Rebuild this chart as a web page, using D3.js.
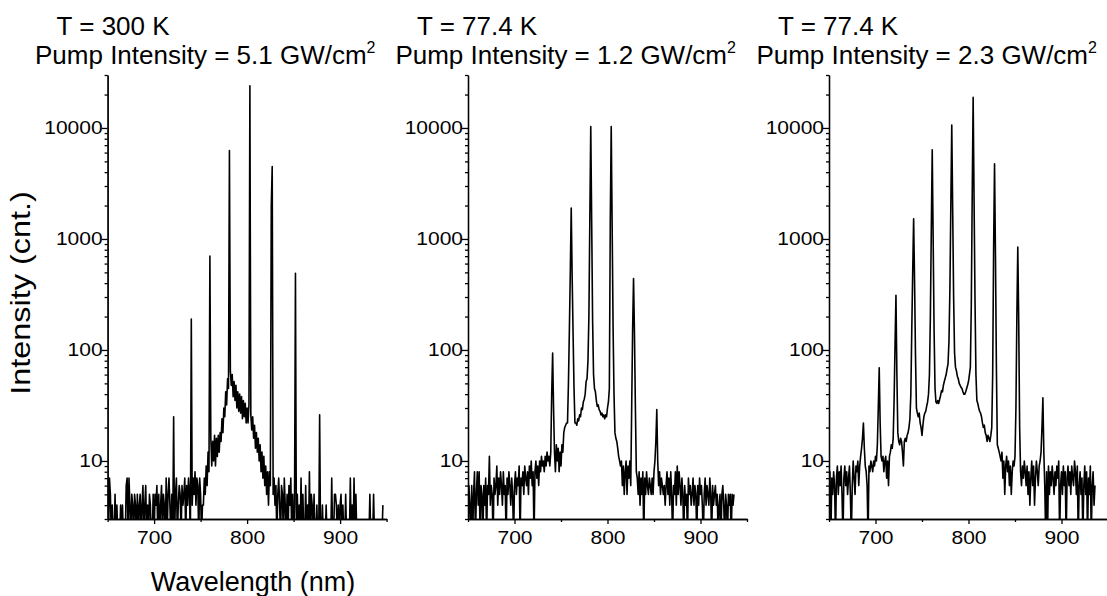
<!doctype html>
<html>
<head>
  <meta charset="utf-8">
  <title>Lasing spectra</title>
  <script src="https://cdn.jsdelivr.net/npm/d3@7"></script>
  <style>
    body { margin: 0; background: #fff; }
    svg { font-family: "Liberation Sans", Arial, sans-serif; }
  </style>
</head>
<body>
  <div id="chart"></div>

  <script type="text/javascript">
    // spectra sampled every 1 nm starting at 650 nm
    var wlStart = 650;

    // T = 300 K, 5.1 GW/cm2  (650 - 946 nm)
    var spec300 = [
      7,2,7,5,2,4,2,2,5,2,
      4,2,2,2,4,2,4,2,2,2,
      6,7,2,7,4,2,5,4,2,5,
      4,2,5,2,4,5,2,4,6,2,
      4,6,2,4,2,5,4,2,2,5,
      2,5,4,6,2,5,2,4,6,2,
      5,4,2,7,2,5,7,4,2,5,
      2,25,2,5,7,2,4,6,5,2,
      6,4,5,7,2,6,4,7,5,2,
      190,4,7,5,8,4,7,6,2,7,
      5,2,4,4,7,5,9,6,12,8,
      700,16,9,15,10,17,9,16,11,17,
      12,18,15,24,18,30,25,42,32,55,
      45,6260,65,48,60,38,52,35,48,30,
      42,28,40,27,38,24,35,25,33,22,
      30,22,32,24000,26,19,25,16,21,13,
      18,12,16,10,14,8,12,7,11,6,
      9,5,8,4,8,6,2000,4500,5,7,
      4,6,2,5,7,4,2,6,5,2,
      7,4,2,5,2,6,4,7,2,5,
      2,4,490,2,5,2,4,2,7,2,
      5,2,2,6,2,4,2,8,2,5,
      4,2,5,2,2,4,2,2,26,2,
      2,4,2,2,2,4,2,2,2,2,
      2,7,2,2,5,5,4,2,4,2,
      4,5,2,4,2,2,5,2,2,2,
      2,7,2,4,2,7,2,5,2,2,
      2,2,2,2,2,2,2,2,2,2,
      2,2,5,2,2,2,5,2,2,2,
      2,2,2,2,2,2,4
    ];

    // T = 77.4 K, 1.2 GW/cm2  (650 - 936 nm)
    var spec77low = [
      2,6,4,2,6,2,5,8,2,5,
      8,4,8,2,6,5,2,6,4,7,
      2,6,5,11,4,6,5,2,7,5,
      6,9,4,7,5,8,6,4,8,5,
      6,2,7,5,8,6,4,7,5,2,
      6,8,5,7,6,9,2,7,6,8,
      5,9,7,6,8,5,9,7,10,6,
      8,2,8,10,7,9,6,10,8,11,
      9,10,8,11,9,12,10,11,9,12,
      40,94,30,12,8,14,10,13,8,12,
      9,14,12,18,20,21,22,22,50,150,
      500,1900,450,140,45,22,22,21,24,23,
      26,25,30,29,34,36,40,52,55,80,
      200,1500,10300,1400,180,60,45,42,35,31,
      32,29,28,26,27,25,26,24,26,25,
      30,34,45,1500,10300,1300,160,40,18,16,
      15,13,11,10,9,10,6,9,5,8,
      10,5,9,7,10,6,30,150,440,140,
      30,8,7,5,8,4,7,5,8,2,
      7,5,8,6,5,7,6,5,7,5,
      8,10,15,29,10,6,8,5,7,6,
      5,6,4,6,8,5,7,4,8,5,
      2,6,5,8,4,9,5,8,6,4,
      7,5,2,6,4,5,2,7,5,6,
      4,5,7,4,6,5,2,6,4,7,
      5,6,4,2,5,7,4,6,5,4,
      7,5,2,6,4,5,6,4,5,2,
      4,5,2,5,6,4,2,5,4,2,
      5,4,5,2,5,4,5
    ];

    // T = 77.4 K, 2.3 GW/cm2  (650 - 936 nm)
    var spec77high = [
      5,8,2,7,5,8,6,2,7,9,
      5,8,6,9,5,2,7,9,6,8,
      5,7,9,5,2,6,10,7,5,9,
      8,10,6,9,11,13,16,22,13,9,
      8,6,2,9,8,10,9,8,10,9,
      11,10,14,30,69,22,11,10,11,8,
      10,11,7,10,6,11,12,14,13,16,
      35,110,311,60,18,15,14,16,15,12,
      9,15,16,15,17,18,20,24,40,150,
      500,1517,420,90,30,27,25,27,22,20,
      17,21,25,27,28,31,34,40,60,200,
      1200,6350,1000,150,45,34,33,35,33,36,
      39,43,42,48,52,56,60,68,75,120,
      350,2000,10640,1800,300,95,70,65,58,55,
      50,48,46,45,42,40,40,42,45,48,
      52,60,70,250,2500,18850,2200,280,60,35,
      33,30,28,27,25,22,20,21,18,17,
      15,17,16,15,17,20,60,800,4750,700,
      70,14,13,12,11,10,12,7,10,5,
      9,11,8,10,6,9,5,8,10,9,
      11,30,200,844,180,20,8,6,9,7,
      10,8,6,9,5,8,4,7,10,6,
      9,4,7,10,8,6,9,10,12,20,
      37,12,6,2,8,2,9,5,8,6,
      9,7,5,8,6,9,7,10,2,6,
      8,5,9,6,8,2,7,9,6,8,
      5,9,7,6,10,8,5,9,2,6,
      8,5,7,2,6,9,5,8,2,7,
      5,9,2,6,8,4,6
    ];

    var temps = ['T = 300 K', 'T = 77.4 K', 'T = 77.4 K'];
    var pumps = ['5.1', '1.2', '2.3'];
    var yMajor = [10, 100, 1000, 10000];
    var xMajor = [700, 800, 900];
    var xMinor = [650, 750, 850, 950];

    var width = 1107;
    var height = 596;
    var plotW = 279;
    var yTop = 75;
    var yBot = 519;
    var panelLeft = [107.6, 468, 829];
    var stretch = 1.2;   // tick labels in the original are drawn wide

    var svg = d3.select('#chart')
      .append('svg')
      .attr('width', width)
      .attr('height', height);

    var spectra = [spec300, spec77low, spec77high];

    spectra.forEach(function(spec, i) {
      var g = svg.append('g')
        .attr('transform', 'translate(' + panelLeft[i] + ',0)');

      var x = d3.scaleLinear().domain([650, 950]).range([0, plotW]);
      var y = d3.scaleLog().domain([3, 30000]).range([yBot, yTop]);

      g.append('clipPath')
        .attr('id', 'clip' + i)
        .append('rect')
        .attr('x', 0)
        .attr('y', yTop)
        .attr('width', plotW)
        .attr('height', yBot - yTop);

      var line = d3.line()
        .x(function(d, j) { return x(wlStart + j); })
        .y(function(d) { return y(d); });

      g.append('path')
        .datum(spec)
        .attr('d', line)
        .attr('fill', 'none')
        .attr('stroke', '#000')
        .attr('stroke-width', 1.6)
        .attr('stroke-linejoin', 'round')
        .attr('clip-path', 'url(#clip' + i + ')');

      // y axis: minor then major
      var yMinorVals = y.ticks().filter(function(t) { return yMajor.indexOf(t) < 0; });
      g.append('g')
        .call(d3.axisLeft(y).tickValues(yMinorVals).tickSize(3).tickSizeOuter(0).tickFormat(''))
        .call(styleAxis);
      var ya = g.append('g')
        .call(d3.axisLeft(y).tickValues(yMajor).tickSize(6).tickSizeOuter(0).tickFormat(d3.format('d')))
        .call(styleAxis);
      ya.selectAll('text')
        .attr('x', -5 / stretch)
        .attr('transform', 'scale(' + stretch + ',1)');

      // x axis
      var xg = g.append('g').attr('transform', 'translate(0,' + yBot + ')');
      xg.append('g')
        .call(d3.axisBottom(x).tickValues(xMinor).tickSize(3).tickSizeOuter(0).tickFormat(''))
        .call(styleAxis);
      var xa = xg.append('g')
        .call(d3.axisBottom(x).tickValues(xMajor).tickSize(5).tickSizeOuter(0).tickFormat(d3.format('d')))
        .call(styleAxis);
      xa.selectAll('text')
        .attr('y', 13)
        .attr('transform', 'scale(' + stretch + ',1)');

      // panel titles
      g.append('text')
        .attr('x', -51)
        .attr('y', 35)
        .attr('font-size', '26px')
        .text(temps[i]);

      var t2 = g.append('text')
        .attr('x', -72.6)
        .attr('y', 64)
        .attr('font-size', '26px')
        .text('Pump Intensity = ' + pumps[i] + ' GW/cm');
      t2.append('tspan')
        .attr('dy', -11)
        .attr('font-size', '16px')
        .text('2');
    });

    function styleAxis(sel) {
      sel.attr('font-family', '"Liberation Sans", Arial, sans-serif')
        .attr('font-size', '17.5px');
      sel.selectAll('path, line')
        .attr('stroke', '#000')
        .attr('stroke-width', 1.3);
      sel.selectAll('text').attr('fill', '#000');
    }

    svg.append('text')
      .attr('x', 253)
      .attr('y', 591)
      .attr('text-anchor', 'middle')
      .attr('font-size', '27px')
      .text('Wavelength (nm)');

    svg.append('text')
      .attr('transform', 'translate(30,293) rotate(-90) scale(1.2,1)')
      .attr('text-anchor', 'middle')
      .attr('font-size', '27px')
      .text('Intensity (cnt.)');
  </script>
</body>
</html>
